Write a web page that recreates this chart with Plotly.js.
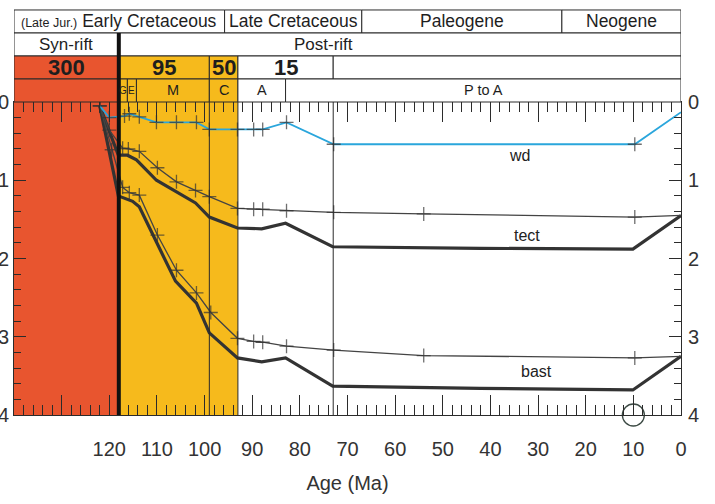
<!DOCTYPE html>
<html><head><meta charset="utf-8">
<script src="https://cdn.plot.ly/plotly-3.0.1.min.js"></script>
<style>html,body{margin:0;padding:0;background:#fff}#chart{width:715px;height:504px}</style>
</head><body><div id="chart"></div>
<script>
// ---------------- data (age in Ma, depth in km) ----------------
const wdAge        = [122, 120, 116.8, 115.8, 113.7, 110.1, 105.9, 101.7, 99, 93.1, 89.7, 87.8, 82.8, 72.9, 9.7, 0];
const wdDepth      = [0.05, 0.2, 0.18, 0.15, 0.19, 0.26, 0.26, 0.26, 0.35, 0.35, 0.35, 0.35, 0.26, 0.54, 0.54, 0.13];

const tectThinAge   = [122, 120, 117.2, 116, 113.7, 109.9, 105.9, 101.9, 99, 93.1, 89.7, 87.8, 82.8, 72.9, 54, 9.7, 0];
const tectThinDepth = [0.05, 0.36, 0.59, 0.60, 0.63, 0.84, 1.02, 1.13, 1.21, 1.36, 1.37, 1.37, 1.39, 1.41, 1.43, 1.47, 1.45];

const tectAge   = [122, 118.1, 116.2, 114.3, 110.1, 105.9, 101.9, 99, 93.1, 88, 83, 73.1, 42.2, 10.1, 0];
const tectDepth = [0.05, 0.68, 0.68, 0.74, 1.0, 1.15, 1.29, 1.47, 1.61, 1.62, 1.55, 1.85, 1.87, 1.88, 1.45];

const bastThinAge   = [122, 119.5, 117.2, 115.8, 113.7, 109.9, 105.9, 101.7, 98.7, 93.1, 89.7, 87.8, 82.8, 72.9, 54, 9.7, 0];
const bastThinDepth = [0.05, 0.61, 1.09, 1.16, 1.19, 1.70, 2.15, 2.44, 2.69, 3.02, 3.06, 3.07, 3.12, 3.17, 3.24, 3.27, 3.25];

const bastAge   = [122, 118.1, 115.1, 113.7, 110.1, 106.1, 101.7, 99, 93.1, 88, 83, 73.1, 42.2, 10.1, 0];
const bastDepth = [0.05, 1.20, 1.27, 1.34, 1.79, 2.29, 2.57, 2.95, 3.27, 3.32, 3.27, 3.63, 3.66, 3.68, 3.25];

const circleAge = [10];
const circleDepth = [4];

const curveLabels = ["wd", "tect", "bast"];
const curveLabelAge = [33.8, 32.4, 30.3];
const curveLabelDepth = [0.68, 1.70, 3.45];

// header table
const periodNames  = ["Early Cretaceous", "Late Cretaceous", "Paleogene", "Neogene"];
const periodBounds = [140, 95.8, 67, 25, 0];
const phaseNames   = ["Syn-rift", "Post-rift"];
const phaseBounds  = [140, 118, 0];
const rateNames    = ["300", "95", "50", "15", ""];
const rateBounds   = [140, 118, 99, 93, 73, 0];
const stageNames   = ["", "G", "E", "M", "C", "A", "P to A"];
const stageBounds  = [140, 118, 116.2, 114.3, 99, 93, 83, 0];
const riftBoundary = 118;
const stageLines   = [99, 93, 73];

// ---------------- styling ----------------
const RED = '#e8552f', YEL = '#f6ba1c', INK = '#2b2b2b';
const SANS = 'Liberation Sans, Arial, sans-serif';
const rateFill  = [RED, YEL, YEL, '#fff', '#fff'];
const stageFill = [RED, YEL, YEL, YEL, YEL, '#fff', '#fff'];
// row edges in paper coordinates (top to bottom)
const rowY = [1.294, 1.2204, 1.147, 1.0735, 1.0];

const shapes = [];
const annotations = [];

// background bands in plot
shapes.push({type:'rect', layer:'below', xref:'x', yref:'paper', x0:140, x1:riftBoundary, y0:0, y1:1, fillcolor:RED, line:{width:0}});
shapes.push({type:'rect', layer:'below', xref:'x', yref:'paper', x0:riftBoundary, x1:93, y0:0, y1:1, fillcolor:YEL, line:{width:0}});

function row(names, bounds, r, fills, fontSize, bold, extra) {
  for (let i = 0; i < names.length; i++) {
    shapes.push({type:'rect', xref:'x', yref:'paper', x0:bounds[i], x1:bounds[i+1], y0:rowY[r+1], y1:rowY[r],
      fillcolor: fills ? fills[i] : '#fff', line:{color:INK, width:1}});
    if (names[i] !== '') {
      let t = names[i];
      if (bold) t = '<b>' + t + '</b>';
      if (extra && extra[i]) t = extra[i] + t;
      annotations.push({xref:'x', yref:'paper', x:(bounds[i]+bounds[i+1])/2, y:(rowY[r]+rowY[r+1])/2,
        text:t, showarrow:false, xanchor:'center', yanchor:'middle',
        font:{family:SANS, size:fontSize, color:'#1e1e1e'}});
    }
  }
}
row(periodNames, periodBounds, 0, null, 17.5, false, ['<span style="font-size:12.5px">(Late Jur.)</span> ']);
row(phaseNames, phaseBounds, 1, null, 17, false);
// move Post-rift label to its position
annotations[annotations.length-1].x = 75;
row(rateNames, rateBounds, 2, rateFill, 22, true);
row(stageNames, stageBounds, 3, stageFill, 14.5, false);
// small G / E
annotations.forEach(a => { if (a.text === 'G' || a.text === 'E') a.font.size = 10; });

// vertical lines
stageLines.forEach(v => shapes.push({type:'line', xref:'x', yref:'paper', x0:v, x1:v, y0:0, y1:1, line:{color:INK, width:1}}));
shapes.push({type:'line', xref:'x', yref:'paper', x0:riftBoundary, x1:riftBoundary, y0:0, y1:rowY[1], line:{color:'#111', width:4}});

// curve labels
curveLabels.forEach((t, i) => annotations.push({xref:'x', yref:'y', x:curveLabelAge[i], y:curveLabelDepth[i], text:t,
  showarrow:false, font:{family:SANS, size:16, color:'#222'}}));

function markSizes(a) { return a.map((v, i) => i === a.length - 1 ? 0 : 10); }

const traces = [
  {x:tectAge, y:tectDepth, mode:'lines', line:{color:'#333', width:3.2}, hoverinfo:'skip'},
  {x:bastAge, y:bastDepth, mode:'lines', line:{color:'#333', width:3.2}, hoverinfo:'skip'},
  {x:tectThinAge, y:tectThinDepth, mode:'lines+markers', line:{color:'#444', width:1.3},
    marker:{symbol:'cross-thin', size:markSizes(tectThinAge), line:{color:'#333', width:1.3}}, hoverinfo:'skip'},
  {x:bastThinAge, y:bastThinDepth, mode:'lines+markers', line:{color:'#444', width:1.3},
    marker:{symbol:'cross-thin', size:markSizes(bastThinAge), line:{color:'#333', width:1.3}}, hoverinfo:'skip'},
  {x:wdAge, y:wdDepth, mode:'lines+markers', line:{color:'#2aa6dc', width:1.8},
    marker:{symbol:'cross-thin', size:markSizes(wdAge), line:{color:'#333', width:1.3}}, hoverinfo:'skip'},
  {x:circleAge, y:circleDepth, mode:'markers', cliponaxis:false,
    marker:{symbol:'circle-open', size:22, line:{color:'#3c4a44', width:1.3}, color:'#3c4a44'}, hoverinfo:'skip'},
  {x:[0], y:[0], yaxis:'y2', mode:'markers', marker:{opacity:0}, hoverinfo:'skip'}
];

const tickFont = {family:SANS, size:20, color:'#333'};
const layout = {
  width:715, height:504,
  margin:{l:14, r:34, t:102, b:89},
  paper_bgcolor:'#fff', plot_bgcolor:'#fff',
  showlegend:false,
  xaxis:{range:[140, 0], dtick:10, tick0:0, labelalias:{'130':'', '140':''},
    ticks:'inside', ticklen:20, tickwidth:1, tickcolor:INK,
    minor:{dtick:2, tick0:0, ticks:'inside', ticklen:10, tickwidth:1, tickcolor:INK},
    showline:true, linecolor:INK, linewidth:1, mirror:'ticks', showgrid:false, zeroline:false,
    tickfont:tickFont, ticklabelstandoff:16,
    title:{text:'Age (Ma)', font:{family:SANS, size:20, color:'#333'}, standoff:16}},
  yaxis:{range:[4, 0], dtick:1, tick0:0,
    ticks:'inside', ticklen:12, tickwidth:1, tickcolor:INK,
    minor:{dtick:0.2, tick0:0, ticks:'inside', ticklen:7, tickwidth:1, tickcolor:INK},
    showline:true, linecolor:INK, linewidth:1, mirror:'ticks', showgrid:false, zeroline:false,
    tickfont:tickFont, ticklabelstandoff:0},
  yaxis2:{range:[4, 0], dtick:1, tick0:0, overlaying:'y', side:'right', ticks:'', showline:false,
    showgrid:false, zeroline:false, tickfont:tickFont, ticklabelstandoff:6},
  shapes:shapes, annotations:annotations
};
Plotly.newPlot('chart', traces, layout, {staticPlot:true, displayModeBar:false});
</script></body></html>
